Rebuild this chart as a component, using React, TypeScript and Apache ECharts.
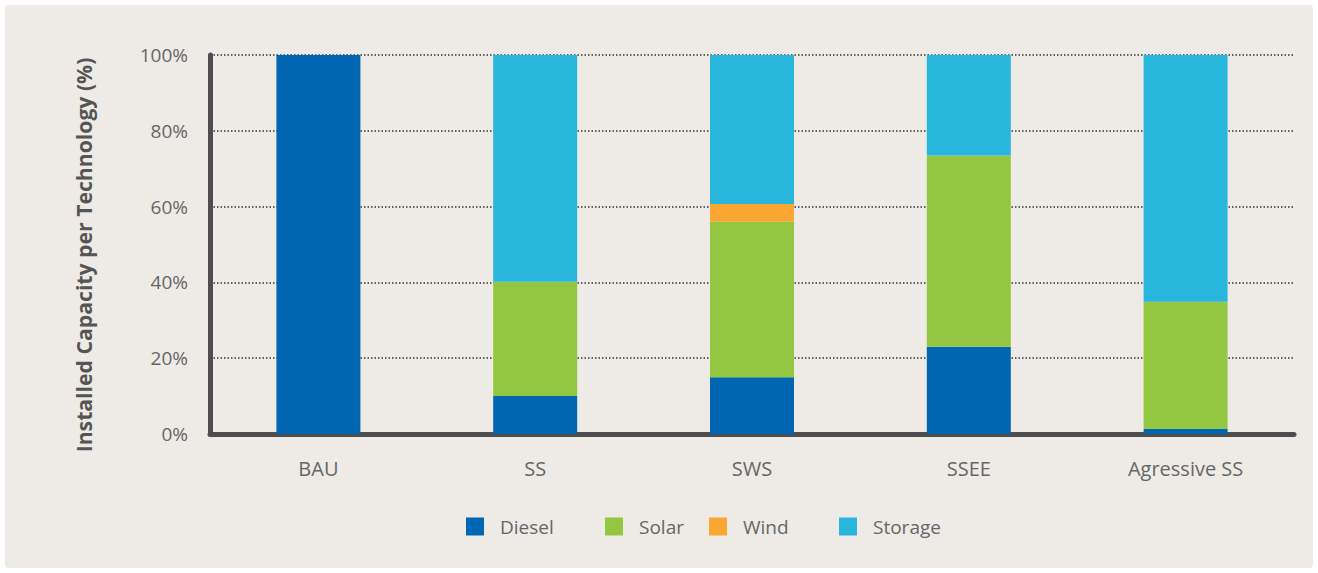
import React, { useEffect, useRef } from "react";
import * as echarts from "echarts";

const categories = ["BAU", "SS", "SWS", "SSEE", "Agressive SS"];
const diesel = [100, 10, 15, 23, 1.3];
const solar = [0, 30.2, 41, 50.5, 33.6];
const wind = [0, 0, 4.7, 0, 0];
const storage = [0, 59.8, 39.3, 26.5, 65.1];
const yTicks = [0, 20, 40, 60, 80, 100];
const yAxisTitle = "Installed Capacity per Technology (%)";

const COLORS = {
  Diesel: "#0066b3",
  Solar: "#93c741",
  Wind: "#faa633",
  Storage: "#29b6dc",
};
const FONT = "'Open Sans', sans-serif";

export default function App() {
  const ref = useRef<HTMLDivElement>(null);
  useEffect(() => {
    document.body.style.margin = "0";
    const chart = echarts.init(ref.current!, undefined, { renderer: "svg" });
    const mk = (name: string, data: number[]) => ({
      name,
      type: "bar",
      stack: "total",
      data,
      barWidth: 84,
      itemStyle: { color: (COLORS as any)[name] },
      emphasis: { disabled: true },
    });
    const legendPos: [string, number][] = [
      ["Diesel", 466],
      ["Solar", 605],
      ["Wind", 709],
      ["Storage", 839],
    ];
    chart.setOption({
      animation: false,
      backgroundColor: "#ffffff",
      textStyle: { fontFamily: FONT },
      graphic: [
        {
          type: "rect",
          z: -10,
          shape: { x: 5, y: 5, width: 1308, height: 563, r: 4 },
          style: { fill: "#eeebe6" },
        },
        {
          type: "text",
          x: 83,
          y: 255,
          rotation: Math.PI / 2,
          style: {
            text: yAxisTitle,
            fontFamily: FONT,
            fontSize: 21.2,
            fontWeight: "bold",
            fill: "#555",
            align: "center",
            verticalAlign: "middle",
          },
        },
      ],
      legend: legendPos.map(([n, x]) => ({
        data: [n],
        left: x,
        top: 517,
        padding: 0,
        icon: "rect",
        itemWidth: 18,
        itemHeight: 18,
        itemGap: 0,
        textStyle: {
          fontFamily: FONT,
          fontSize: 19,
          color: "#666",
          padding: [0, 0, 2, 11],
        },
        selectedMode: false,
      })),
      grid: { left: 210, right: 24, top: 55, bottom: 139, containLabel: false },
      xAxis: {
        type: "category",
        data: categories,
        axisTick: { show: false },
        axisLine: { lineStyle: { color: "#4d4d4f", width: 5 } },
        axisLabel: {
          fontFamily: FONT,
          fontSize: 20,
          color: "#666",
          margin: 24,
        },
      },
      yAxis: {
        type: "value",
        min: 0,
        max: 100,
        interval: 20,
        axisLine: { show: true, lineStyle: { color: "#4d4d4f", width: 5 } },
        axisTick: { show: false },
        axisLabel: {
          fontFamily: FONT,
          fontSize: 19,
          color: "#666",
          margin: 22,
          formatter: (v: number) => (yTicks.includes(v) ? v + "%" : ""),
        },
        splitLine: {
          show: true,
          lineStyle: { color: "#333", width: 1.5, type: [1.5, 2] },
        },
      },
      series: [
        mk("Diesel", diesel),
        mk("Solar", solar),
        mk("Wind", wind),
        mk("Storage", storage),
      ],
    });
    return () => chart.dispose();
  }, []);
  return <div ref={ref} style={{ width: 1318, height: 573 }} />;
}
